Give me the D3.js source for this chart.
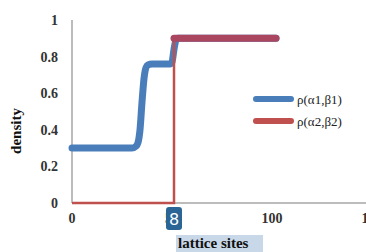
<!DOCTYPE html>
<html>
<head>
<meta charset="utf-8">
<script src="https://cdn.jsdelivr.net/npm/d3@7"></script>
<style>
body { margin: 0; background: #fff; }
svg { display: block; }
</style>
</head>
<body>
<svg id="chart" width="366" height="252"></svg>
<script>
// data
var blueSites  = [0, 30, 32, 33, 34, 35, 36, 37, 38, 40, 49, 50, 51, 52, 53, 102];
var blueValues = [0.3, 0.3, 0.31, 0.33, 0.4, 0.55, 0.68, 0.74, 0.755, 0.76, 0.76, 0.77, 0.84, 0.89, 0.9, 0.9];
var redSites   = [0, 51, 51, 102];
var redValues  = [0, 0, 0.9, 0.9];
var xTicks = [0, 50, 100, 150];
var yTicks = [0, 0.2, 0.4, 0.6, 0.8, 1];
var seriesNames = ["\u03c1(\u03b11,\u03b21)", "\u03c1(\u03b12,\u03b22)"];

var blue = "#4a7ebb", red = "#c0504d";
var serif = "Liberation Serif, DejaVu Serif, serif";

var svg = d3.select("#chart");

var x = d3.scaleLinear().domain([0, 150]).range([72, 372]);
var y = d3.scaleLinear().domain([0, 1]).range([203, 20]);

// axes
svg.append("line")
    .attr("x1", x(0)).attr("x2", 366)
    .attr("y1", y(0)).attr("y2", y(0))
    .attr("stroke", "#a6a6a6").attr("stroke-width", 1.5);
svg.append("line")
    .attr("x1", x(0)).attr("x2", x(0))
    .attr("y1", y(1)).attr("y2", y(0))
    .attr("stroke", "#a6a6a6").attr("stroke-width", 1.5);

svg.append("g").selectAll("text")
    .data(yTicks)
  .enter().append("text")
    .attr("x", 58)
    .attr("y", function(d) { return y(d) + 5; })
    .attr("text-anchor", "end")
    .style("font-family", serif).attr("font-weight", "bold").attr("font-size", 14)
    .attr("fill", "#333")
    .text(function(d) { return d; });

svg.append("g").selectAll("text")
    .data(xTicks)
  .enter().append("text")
    .attr("x", function(d) { return x(d); })
    .attr("y", 223)
    .attr("text-anchor", "middle")
    .style("font-family", serif).attr("font-weight", "bold").attr("font-size", 14)
    .attr("fill", "#333")
    .text(function(d) { return d; });

svg.append("text")
    .attr("transform", "translate(21,131) rotate(-90)")
    .attr("text-anchor", "middle")
    .style("font-family", serif).attr("font-weight", "bold").attr("font-size", 15)
    .attr("fill", "#111")
    .text("density");

// x title with selection highlight
svg.append("rect")
    .attr("x", 176).attr("y", 235).attr("width", 87).attr("height", 17)
    .attr("fill", "#c9d8e8");
svg.append("text")
    .attr("x", 178).attr("y", 248)
    .style("font-family", serif).attr("font-weight", "bold").attr("font-size", 15)
    .attr("fill", "#111")
    .text("lattice sites");

// series
var blueData = d3.zip(blueSites, blueValues);
var redData = d3.zip(redSites, redValues);

var smooth = d3.line()
    .x(function(d) { return x(d[0]); })
    .y(function(d) { return y(d[1]); })
    .curve(d3.curveMonotoneX);
var straight = d3.line()
    .x(function(d) { return x(d[0]); })
    .y(function(d) { return y(d[1]); });

svg.append("path")
    .datum(blueData)
    .attr("d", smooth)
    .attr("fill", "none").attr("stroke", blue)
    .attr("stroke-width", 7).attr("stroke-linecap", "round").attr("stroke-linejoin", "round");

svg.append("path")
    .datum(redData)
    .attr("d", straight)
    .attr("fill", "none").attr("stroke", red)
    .attr("stroke-width", 2.5);

svg.append("path")
    .datum(redData.filter(function(d) { return d[1] >= 0.9; }))
    .attr("d", straight)
    .attr("fill", "none").attr("stroke", "#aa4660")
    .attr("stroke-width", 7).attr("stroke-linecap", "round");

// legend
var legend = svg.append("g").selectAll("g")
    .data(seriesNames)
  .enter().append("g")
    .attr("transform", function(d, i) { return "translate(0," + (99 + i * 22) + ")"; });
legend.append("line")
    .attr("x1", 256).attr("x2", 291)
    .attr("stroke", function(d, i) { return i ? red : blue; })
    .attr("stroke-width", 6).attr("stroke-linecap", "round");
legend.append("text")
    .attr("x", 297).attr("y", 5)
    .style("font-family", serif).attr("font-size", 13)
    .attr("fill", "#222")
    .text(function(d) { return d; });

// page badge overlay
svg.append("rect")
    .attr("x", 166).attr("y", 207).attr("width", 16).attr("height", 23).attr("rx", 3)
    .attr("fill", "#2b6595");
svg.append("text")
    .attr("x", 174).attr("y", 225)
    .attr("text-anchor", "middle")
    .style("font-family", "DejaVu Sans, sans-serif").attr("font-size", 16)
    .attr("fill", "#fff")
    .text("8");
</script>
</body>
</html>
